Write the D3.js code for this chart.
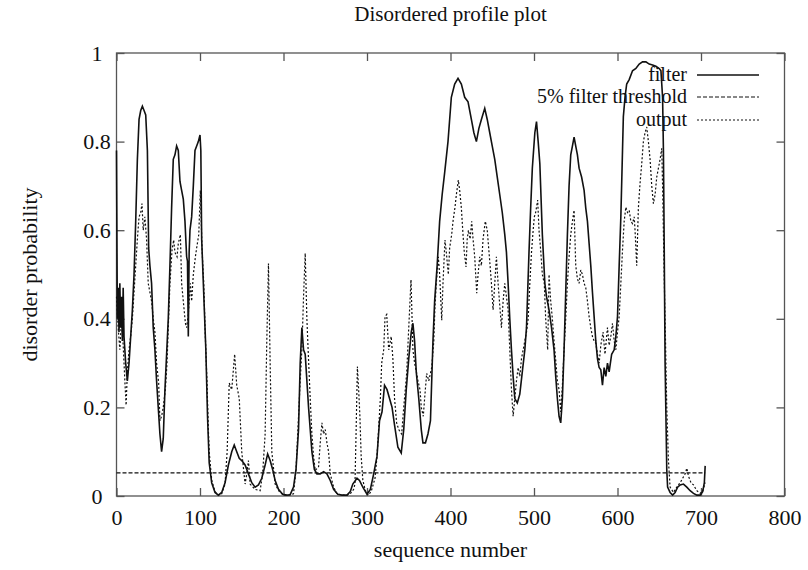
<!DOCTYPE html>
<html>
<head>
<meta charset="utf-8">
<script src="https://cdn.jsdelivr.net/npm/d3@7"></script>
<style>
  html, body { margin: 0; padding: 0; background: #fff; }
  svg { display: block; font-family: "Liberation Serif", "DejaVu Serif", serif; }
</style>
</head>
<body>
<svg id="chart" width="808" height="570"></svg>
<script>
// ---- data ----
const titleText = "Disordered profile plot";
const xLabel = "sequence number";
const yLabel = "disorder probability";
const xTicks = [0, 100, 200, 300, 400, 500, 600, 700, 800];
const yTicks = [0, 0.2, 0.4, 0.6, 0.8, 1];
const legendLabels = ["filter", "5% filter threshold", "output"];

const filterPos = [0,1,2,3,4,5,6,7,8,9,11,13,15,17,19,21,23,25,27,29,31,33,35,37,38.5,40,42,44,46,48,50,52,54,56,58,60,62,64,66,68,70,72,74,76,78,80,82,84,85,86,87,88,90,92,94,96,98,100,101,102,104,107,109,111,114,118,122,126,130,134,138,141,144,147,150,154,158,162,166,170,174,178,181,184,187,190,194,199,204,208,212,215,218,220,222,224,226,228,230,232,234,237,240,244,248,252,256,260,265,270,276,280,283,288,291,295,300,304,308,312,315,318,321,324,327,330,333,337,341,344,347,350,353,355,357,359,362,365,367,370,373,376,379,381,384,387,390,393,397,401,405,409,413,417,421,425,428,431,434,437,441,444,447,450,453,456,459,462,465,467,469,471,473,475,477,480,483,486,489,491,494,496,498,501,503,505,507,510,513,515,518,521,524,526,528,530,532,534,536,538,540,542,544,546,548,550,552,554,557,560,562,564,566,568,570,572,574,576,578,580,582,584,586,588,590,593,596,598,600,602,604,606,607,609,611,614,618,622,626,630,634,638,642,646,650,652,654,655,656,657,658,659,660,663,666,669,672,675,679,683,687,691,695,699,702,704,705];
const filterVal = [0.78,0.40,0.47,0.37,0.48,0.38,0.45,0.35,0.47,0.36,0.30,0.26,0.30,0.36,0.42,0.50,0.62,0.76,0.85,0.87,0.88,0.87,0.86,0.78,0.56,0.52,0.48,0.38,0.33,0.26,0.20,0.14,0.10,0.13,0.24,0.32,0.40,0.52,0.65,0.76,0.77,0.79,0.78,0.71,0.69,0.67,0.62,0.54,0.53,0.36,0.55,0.60,0.63,0.70,0.78,0.79,0.80,0.815,0.78,0.58,0.48,0.33,0.18,0.075,0.03,0.008,0.002,0.008,0.03,0.07,0.10,0.115,0.10,0.085,0.08,0.07,0.05,0.03,0.02,0.025,0.04,0.07,0.095,0.08,0.06,0.035,0.015,0.004,0.002,0.003,0.02,0.06,0.15,0.30,0.38,0.33,0.32,0.26,0.20,0.15,0.10,0.06,0.05,0.05,0.055,0.05,0.035,0.015,0.004,0.002,0.002,0.01,0.027,0.04,0.035,0.02,0.004,0.015,0.05,0.09,0.17,0.19,0.25,0.24,0.22,0.20,0.16,0.11,0.097,0.15,0.24,0.31,0.37,0.39,0.35,0.28,0.22,0.15,0.12,0.12,0.14,0.17,0.35,0.44,0.52,0.62,0.68,0.73,0.80,0.90,0.93,0.943,0.93,0.90,0.89,0.85,0.82,0.80,0.83,0.85,0.875,0.85,0.82,0.79,0.76,0.72,0.68,0.64,0.59,0.55,0.48,0.40,0.33,0.27,0.22,0.21,0.23,0.28,0.33,0.38,0.55,0.65,0.74,0.82,0.845,0.80,0.75,0.59,0.48,0.45,0.42,0.38,0.33,0.27,0.22,0.18,0.165,0.22,0.33,0.46,0.59,0.70,0.77,0.79,0.81,0.79,0.77,0.74,0.72,0.69,0.65,0.62,0.57,0.52,0.46,0.405,0.35,0.31,0.29,0.285,0.25,0.29,0.27,0.30,0.28,0.32,0.33,0.36,0.405,0.52,0.63,0.78,0.856,0.90,0.93,0.94,0.96,0.965,0.975,0.98,0.98,0.975,0.973,0.97,0.965,0.96,0.90,0.78,0.55,0.30,0.18,0.06,0.02,0.008,0.002,0.008,0.02,0.025,0.027,0.02,0.012,0.006,0.002,0.002,0.01,0.03,0.068];

const outputPos = [0,2,4,6,8,10,11.5,13,15,17,19,21,23,25,27,29,30.5,32,34,36,38,40,42,44,46,48,50.5,52,54,56,58.5,60.5,62,64,66.5,68.5,70,72.5,74,76.5,78,80,82.5,84,86,88.5,90,92,94.5,96,98.5,100.4,102.5,104.5,106,108.4,110,111,114,118,122,126,130,132.5,135,138,141.5,144,147,150,154,156,158,160,166,172,175,178,180,182,184,186,190,195,200,206,212,215,218,220,222,224,226,228,229.5,232,234,236,238,242,244,246,248,250,252,254,256,260,264,270,276,280,284,285.6,287,288.5,290,291.5,293,295,298,301.6,305,309.6,312,313.6,316,317.6,320,321.6,323.6,326,329,331,333,335.5,338,341.5,344,347.5,350,352.7,355,357,359.5,361,363.5,365,367.4,369,371.5,374,377.5,380,381.4,383,385.4,387,389.5,391,393.4,395,397.4,399,401.4,403,405.4,407,409.4,411,413,415,416.5,418.6,420,421.5,423.5,425.4,427,429,431.4,433,435,437,439,441.7,444,447,449,451,453,455,457,459,461,463,465,467,469,471,473,475,477,479,481,483,485,487,489,491,493,495,497,499,500.4,502,504.4,506,508,510,512.3,514,516.4,518,520,522,524,526.3,528,530,532,534,536,538,540,542,544,546,548,550,552,554,556,558,560,562,564,566,568,570,572,574,576,578,580,582.7,585,588,590,592,594,596,598,600,602,604,606,608,610,612,614,616,618,620,621,623,625,627,629,631,633,635,637,639,641,643,645,647,649,651,653,654,656,657.5,659,661,663,667,671,675,678,681,683,685,688,691,695,699,702,705];
const outputVal = [0.45,0.38,0.33,0.40,0.34,0.26,0.205,0.28,0.33,0.36,0.40,0.46,0.52,0.58,0.63,0.64,0.66,0.60,0.63,0.58,0.48,0.46,0.44,0.40,0.37,0.30,0.255,0.17,0.18,0.20,0.24,0.30,0.38,0.48,0.555,0.578,0.55,0.54,0.57,0.59,0.48,0.44,0.39,0.38,0.41,0.48,0.44,0.50,0.54,0.56,0.59,0.69,0.555,0.48,0.38,0.255,0.15,0.10,0.036,0.01,0.002,0.005,0.027,0.10,0.255,0.24,0.32,0.25,0.22,0.10,0.027,0.05,0.08,0.027,0.015,0.012,0.05,0.14,0.35,0.525,0.30,0.10,0.027,0.01,0.002,0.002,0.005,0.06,0.18,0.26,0.33,0.45,0.548,0.40,0.33,0.22,0.14,0.09,0.058,0.066,0.12,0.165,0.14,0.15,0.12,0.10,0.05,0.02,0.005,0.002,0.002,0.005,0.015,0.027,0.15,0.292,0.24,0.18,0.09,0.036,0.012,0.002,0.01,0.04,0.09,0.14,0.22,0.30,0.33,0.405,0.41,0.33,0.36,0.31,0.22,0.165,0.15,0.14,0.20,0.277,0.38,0.488,0.33,0.30,0.277,0.26,0.24,0.20,0.18,0.22,0.277,0.26,0.29,0.35,0.427,0.48,0.54,0.50,0.397,0.48,0.578,0.55,0.50,0.56,0.59,0.62,0.652,0.68,0.713,0.69,0.65,0.59,0.55,0.517,0.58,0.60,0.58,0.62,0.58,0.54,0.458,0.50,0.54,0.52,0.58,0.62,0.60,0.53,0.48,0.42,0.48,0.54,0.48,0.43,0.38,0.44,0.48,0.45,0.42,0.33,0.24,0.18,0.22,0.26,0.29,0.27,0.31,0.33,0.35,0.37,0.40,0.48,0.55,0.60,0.63,0.64,0.668,0.60,0.555,0.50,0.48,0.40,0.33,0.50,0.44,0.40,0.35,0.30,0.26,0.24,0.19,0.25,0.33,0.40,0.48,0.54,0.59,0.62,0.645,0.52,0.49,0.48,0.51,0.50,0.48,0.47,0.44,0.405,0.38,0.36,0.35,0.345,0.32,0.30,0.34,0.37,0.32,0.38,0.34,0.36,0.39,0.35,0.33,0.37,0.405,0.48,0.555,0.62,0.652,0.64,0.645,0.62,0.615,0.63,0.60,0.52,0.65,0.706,0.75,0.80,0.82,0.833,0.80,0.76,0.70,0.66,0.68,0.72,0.74,0.76,0.785,0.70,0.488,0.35,0.20,0.08,0.02,0.008,0.02,0.03,0.04,0.05,0.063,0.045,0.03,0.025,0.012,0.006,0.01,0.03];

const thresholdPos = [0, 705];
const thresholdVal = [0.052, 0.052];

// ---- layout ----
const svg = d3.select("#chart");
const plotL = 116.5, plotR = 784.5, plotT = 53, plotB = 496;
const x = d3.scaleLinear().domain([0, 800]).range([plotL, plotR]);
const y = d3.scaleLinear().domain([0, 1]).range([plotB, plotT]);
const ink = "#111";
const frame = "#555";
const tickFont = 22;
const labelFont = 22;
const titleFont = 21;
const legendFont = 20;
const serif = "Liberation Serif, DejaVu Serif, serif";

const line = d3.line().x(d => x(d[0])).y(d => y(d[1]));
const zipped = (p, v) => p.map((d, i) => [d, v[i]]);

// border
svg.append("rect")
  .attr("x", plotL).attr("y", plotT)
  .attr("width", plotR - plotL).attr("height", plotB - plotT)
  .attr("fill", "none").attr("stroke", frame).attr("stroke-width", 1.3);

// axes with inward ticks
const tickLen = 8;
const gx = svg.append("g").attr("transform", `translate(0,${plotB})`)
  .call(d3.axisBottom(x).tickValues(xTicks).tickFormat(d3.format("d")).tickSize(-tickLen).tickPadding(13));
const gxTop = svg.append("g").attr("transform", `translate(0,${plotT})`)
  .call(d3.axisTop(x).tickValues(xTicks).tickFormat("").tickSize(-tickLen));
const gy = svg.append("g").attr("transform", `translate(${plotL},0)`)
  .call(d3.axisLeft(y).tickValues(yTicks).tickFormat(d => d === 0 ? "0" : d === 1 ? "1" : d3.format(".1f")(d)).tickSize(-tickLen));
const gyR = svg.append("g").attr("transform", `translate(${plotR},0)`)
  .call(d3.axisRight(y).tickValues(yTicks).tickFormat("").tickSize(-tickLen));

[gx, gxTop, gy, gyR].forEach(g => {
  g.select(".domain").remove();
  g.selectAll(".tick line").attr("stroke", frame).attr("stroke-width", 1.3);
  g.selectAll("text").attr("fill", ink).attr("font-size", tickFont).attr("font-family", serif);
});
gy.selectAll("text").attr("text-anchor", "middle").attr("x", 97 - plotL);

// series
const plot = svg.append("g");
plot.append("path").datum(zipped(thresholdPos, thresholdVal))
  .attr("d", line).attr("fill", "none").attr("stroke", ink)
  .attr("stroke-width", 1.2).attr("stroke-dasharray", "4,2");
plot.append("path").datum(zipped(outputPos, outputVal))
  .attr("d", line).attr("fill", "none").attr("stroke", ink)
  .attr("stroke-width", 1.2).attr("stroke-dasharray", "2,2");
plot.append("path").datum(zipped(filterPos, filterVal))
  .attr("d", line).attr("fill", "none").attr("stroke", ink)
  .attr("stroke-width", 1.6);

// legend
const legendRows = [75, 97, 120];
const dashes = [null, "4,2", "2,2"];
const widths = [1.5, 1.2, 1.2];
legendLabels.forEach((lab, i) => {
  svg.append("text").attr("x", 687).attr("y", legendRows[i]).attr("dy", "0.32em")
    .attr("text-anchor", "end").attr("font-size", legendFont).attr("font-family", serif)
    .attr("fill", ink).text(lab);
  const l = svg.append("line").attr("x1", 697).attr("x2", 759)
    .attr("y1", legendRows[i]).attr("y2", legendRows[i])
    .attr("stroke", ink).attr("stroke-width", widths[i]);
  if (dashes[i]) l.attr("stroke-dasharray", dashes[i]);
});

// titles
svg.append("text").attr("x", (plotL + plotR) / 2).attr("y", 21)
  .attr("text-anchor", "middle").attr("font-size", titleFont).attr("font-family", serif)
  .attr("fill", ink).text(titleText);
svg.append("text").attr("x", (plotL + plotR) / 2).attr("y", 557)
  .attr("text-anchor", "middle").attr("font-size", labelFont).attr("font-family", serif)
  .attr("fill", ink).text(xLabel);
svg.append("text").attr("transform", `translate(30,${(plotT + plotB) / 2}) rotate(-90)`)
  .attr("dy", "0.32em").attr("text-anchor", "middle").attr("font-size", labelFont)
  .attr("font-family", serif).attr("fill", ink).text(yLabel);
</script>
</body>
</html>
